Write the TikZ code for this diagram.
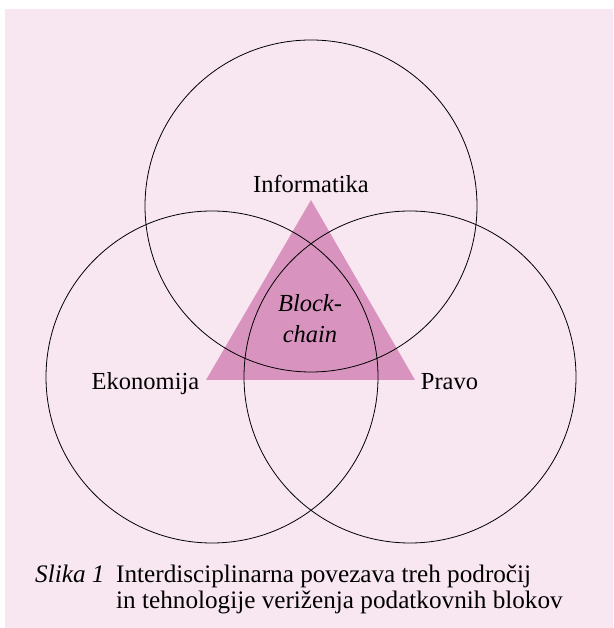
\documentclass[tikz,border=0pt]{standalone}
\usepackage{fontspec}
\setmainfont{Liberation Serif}
\usetikzlibrary{positioning}
\definecolor{pageBg}{RGB}{248,231,241}
\definecolor{chainPink}{RGB}{217,147,191}

\begin{document}
\begin{tikzpicture}[x=1pt, y=1pt,
    field/.style={circle, draw, line width=0.8pt, minimum size=332pt, inner sep=0pt},
    fieldname/.style={font=\fontsize{24.5}{26}\selectfont, inner sep=0pt},
    captext/.style={font=\fontsize{25.2}{26}\selectfont, inner sep=0pt, align=left}
]
\useasboundingbox (0,0) rectangle (613,628);
\fill[pageBg] (5,0) rectangle (613,619);

% triangle under the rings
\fill[chainPink] (311,428) -- (206,248) -- (415,248) -- cycle;

\node[field] (inf) at (311,422) {};
\node[field] (eko) at (212,251) {};
\node[field] (pra) at (410,251) {};

\node[fieldname, anchor=base] (infname) at (311,435) {Informatika};
\node[fieldname, anchor=base] (ekoname) at (145.5,238) {Ekonomija};
\node[fieldname, anchor=base] (praname) at (449.5,238) {Pravo};
\node[fieldname, align=center, font=\fontsize{24.5}{31}\selectfont\itshape, anchor=base] (chain) at (310,285) {Block-\\chain};

\node[captext, anchor=base west, font=\fontsize{25.2}{26}\selectfont\itshape] (capno) at (35,45) {Slika 1};
\node[captext, anchor=base west] (captxt) at (116,19) {Interdisciplinarna povezava treh področij\\in tehnologije veriženja podatkovnih blokov};
\end{tikzpicture}
\end{document}
